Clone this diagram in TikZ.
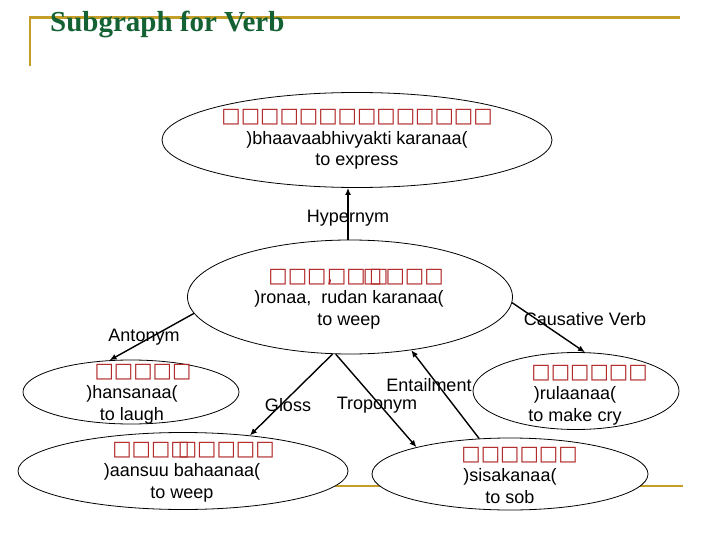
\documentclass[tikz,border=0pt]{standalone}
\usepackage{fontspec}
\setmainfont{Liberation Sans}
\newfontfamily\titlefont{Liberation Serif}
\newfontfamily\boxfont{DejaVu Sans}
\usetikzlibrary{shapes.geometric,arrows.meta}
\definecolor{gold}{RGB}{196,158,38}
\definecolor{titlegreen}{RGB}{20,98,52}
\definecolor{tofured}{RGB}{178,42,42}
\newcommand\tofu[1]{{\color{tofured}\boxfont\fontsize{20.5}{21.5}\selectfont #1}}

\begin{document}
\begin{tikzpicture}[x=1pt,y=-1pt,
    sense/.style={ellipse,draw,fill=white,inner sep=0pt,line width=0.8pt},
    gloss/.style={align=center,inner sep=0pt,font=\fontsize{18}{21.5}\selectfont},
    rel/.style={inner sep=0pt,font=\fontsize{18}{21.5}\selectfont},
    link/.style={line width=1.4pt,-{Latex[length=7pt,width=6pt]}}]
  \useasboundingbox (0,0) rectangle (720,540);
  % slide frame
  \draw[gold,line width=2.6pt] (30,66) -- (30,17.5) -- (680,17.5);
  \draw[gold,line width=2.6pt] (100,486) -- (683,486);
  \node[anchor=base west,inner sep=0pt,text=titlegreen,font=\titlefont\bfseries\fontsize{29}{34}\selectfont] (title) at (50,32) {Subgraph for Verb};
  % senses
  \node[sense,minimum width=390pt,minimum height=95pt] (express) at (357,140) {};
  \node[sense,minimum width=325pt,minimum height=114pt] (weep) at (350,297) {};
  \node[sense,minimum width=216pt,minimum height=64pt] (laugh) at (131,392) {};
  \node[sense,minimum width=330pt,minimum height=77pt] (tears) at (183,471) {};
  \node[sense,minimum width=206pt,minimum height=77pt] (cry) at (576,391) {};
  \node[sense,minimum width=276pt,minimum height=72pt] (sob) at (510,474) {};
  \node[gloss] (express-txt) at (357,139.5) {\tofu{□□□□□□□□□□□□□□}\\)bhaavaabhivyakti karanaa(\\to express};
  \node[gloss] (weep-txt) at (349,299) {\hspace*{14pt}\tofu{□□□,\kern-6pt□□\kern-3pt□\kern-13pt□\kern-3pt□□□}\\)ronaa,\ \ rudan karanaa(\\to weep};
  \node[gloss] (laugh-txt) at (132,394) {\hspace*{22pt}\tofu{□□□□□}\\)hansanaa(\\to laugh};
  \node[gloss] (tears-txt) at (182,472) {\hspace*{23pt}\tofu{□□□□\kern-12pt□□□□□}\\)aansuu bahaanaa(\\to weep};
  \node[gloss] (cry-txt) at (575,395) {\hspace*{29pt}\tofu{□□□□□□}\\)rulaanaa(\\to make cry};
  \node[gloss] (sob-txt) at (510,475) {\hspace*{19pt}\tofu{□□□□□□}\\)sisakanaa(\\to sob};
  % relations
  \begin{scope}[link]
    \draw (weep.92) -- (weep.92 |- express.south);
    \draw (weep.186) -- (laugh.124);
    \draw (weep.253) -- (tears.28);
    \draw (weep.256) -- (sob.164);
    \draw (sob.131) -- (weep.-41);
    \draw (weep.-2) -- (cry.77);
  \end{scope}
  \node[rel] (hyper) at (348,218) {Hypernym};
  \node[rel] (anto) at (144,337) {Antonym};
  \node[rel] (glossrel) at (288,405) {Gloss};
  \node[rel] (tropo) at (377,405) {Troponym};
  \node[rel] (entail) at (429,385) {Entailment};
  \node[rel] (caus) at (585,319) {Causative Verb};
\end{tikzpicture}
\end{document}
